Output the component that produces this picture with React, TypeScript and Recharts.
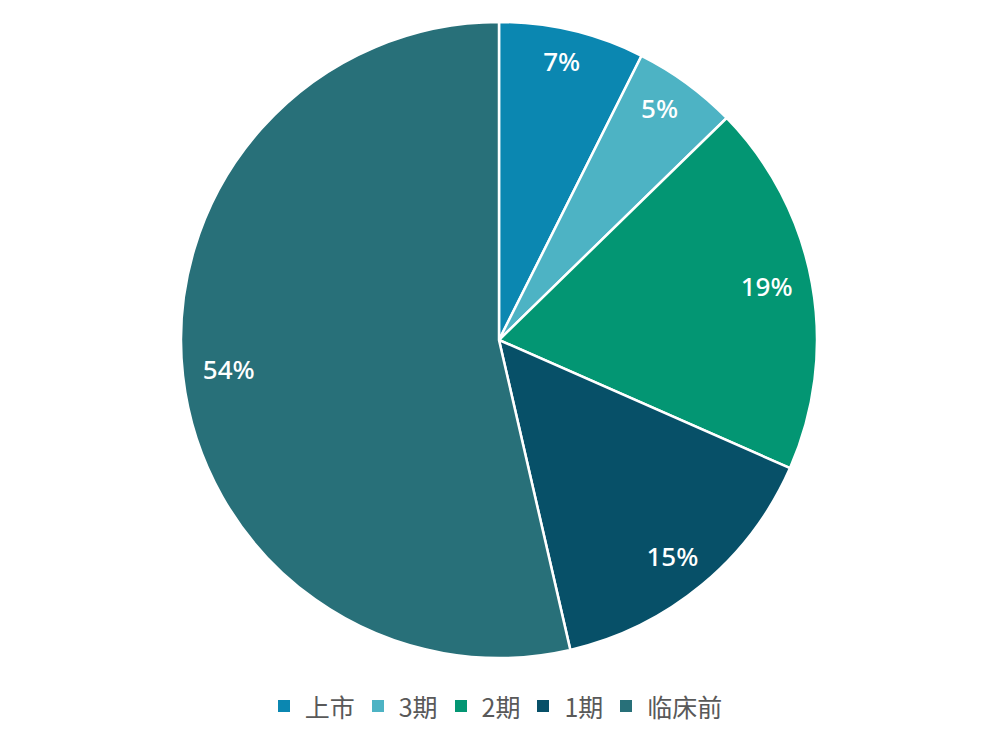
import React from 'react';
import { PieChart, Pie, Cell, Legend } from 'recharts';

const categories = ['上市', '3期', '2期', '1期', '临床前'];
const values = [7.4, 5.3, 18.9, 14.8, 53.6];
const colors = ['#0b87b1', '#4db3c4', '#039673', '#075068', '#287079'];

const data = categories.map((name, i) => ({ name, value: values[i] }));
const RAD = Math.PI / 180;

const renderLabel = (props: any) => {
  const { cx, cy, midAngle, percent } = props;
  const x = cx + 272 * Math.cos(-midAngle * RAD);
  const y = cy + 284 * Math.sin(-midAngle * RAD) - 3;
  return (
    <text
      x={x}
      y={y}
      fill="#ffffff"
      textAnchor="middle"
      dominantBaseline="central"
      fontFamily="'Noto Sans', 'Open Sans', sans-serif"
      fontWeight={500}
      fontSize={26}
    >
      {`${Math.round(percent * 100)}%`}
    </text>
  );
};

const renderLegend = () => (
  <div
    style={{
      display: 'flex',
      justifyContent: 'center',
      alignItems: 'center',
      fontFamily: "'Noto Sans CJK SC', sans-serif",
      fontSize: 25,
      color: '#595959',
      lineHeight: '34px',
    }}
  >
    {categories.map((c, i) => (
      <div key={c} style={{ display: 'flex', alignItems: 'center', marginRight: i < categories.length - 1 ? 17 : 0 }}>
        <div style={{ width: 12, height: 12, background: colors[i], marginRight: 15 }} />
        <span>{c}</span>
      </div>
    ))}
  </div>
);

export default function App() {
  return (
    <div style={{ position: 'absolute', left: 0, top: 0, width: 1000, height: 747, background: '#fff' }}>
      <PieChart width={1000} height={747} margin={{ top: 0, right: 0, bottom: 0, left: 0 }}>
        <Pie
          data={data}
          dataKey="value"
          nameKey="name"
          cx={499}
          cy={340}
          outerRadius={318}
          startAngle={90}
          endAngle={-270}
          stroke="#ffffff"
          strokeWidth={2.5}
          label={renderLabel}
          labelLine={false}
          isAnimationActive={false}
        >
          {data.map((d, i) => (
            <Cell key={d.name} fill={colors[i]} />
          ))}
        </Pie>
        <Legend content={renderLegend} wrapperStyle={{ top: 689, left: 0, width: 1000, bottom: 'auto' }} />
      </PieChart>
    </div>
  );
}
